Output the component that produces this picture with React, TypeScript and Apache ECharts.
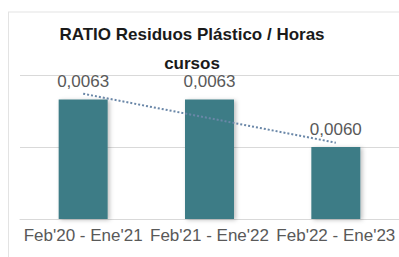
import React, { useEffect, useRef } from "react";
import * as echarts from "echarts";

const categories = ["Feb'20 - Ene'21", "Feb'21 - Ene'22", "Feb'22 - Ene'23"];
const ratioValues = [0.00633, 0.00633, 0.006];
const ratioLabels = ["0,0063", "0,0063", "0,0060"];
const trendValues = [0.00637, 0.0062, 0.00603];
const titleLines = ["RATIO Residuos Plástico / Horas", "cursos"];

export default function App() {
  const ref = useRef<HTMLDivElement>(null);
  useEffect(() => {
    if (!ref.current) return;
    const chart = echarts.init(ref.current, null, { renderer: "svg" });
    chart.setOption({
      animation: false,
      backgroundColor: "#ffffff",
      grid: { left: 20, right: 0, top: 75, bottom: 38 },
      xAxis: {
        type: "category",
        data: categories,
        axisLine: { show: true, lineStyle: { color: "#d9d9d9", width: 1 } },
        axisTick: { show: false },
        axisLabel: {
          color: "#595959",
          fontSize: 17,
          fontFamily: "Liberation Sans, Arial, sans-serif",
          margin: 8,
          interval: 0,
        },
      },
      yAxis: {
        type: "value",
        min: 0.0055,
        max: 0.0065,
        interval: 0.0005,
        axisLabel: { show: false },
        axisLine: { show: false },
        axisTick: { show: false },
        splitLine: { lineStyle: { color: "#d9d9d9", width: 1 } },
      },
      series: [
        {
          type: "bar",
          data: ratioValues,
          barWidth: 49,
          itemStyle: {
            color: "#3d7c86",
            shadowColor: "rgba(0,0,0,0.25)",
            shadowBlur: 4,
            shadowOffsetX: 2,
            shadowOffsetY: 1,
          },
          label: {
            show: true,
            position: "top",
            distance: 9,
            color: "#595959",
            fontSize: 17,
            fontFamily: "Liberation Sans, Arial, sans-serif",
            formatter: (p: any) => ratioLabels[p.dataIndex],
          },
        },
        {
          type: "line",
          data: trendValues,
          symbol: "none",
          lineStyle: { type: "dotted", color: "#6a87a8", width: 2 },
          z: 3,
        },
      ],
      graphic: [
        {
          type: "line",
          shape: { x1: 8, y1: 12, x2: 399, y2: 12 },
          style: { stroke: "#e3e3e3", lineWidth: 1 },
        },
        {
          type: "line",
          shape: { x1: 8.5, y1: 12, x2: 8.5, y2: 257 },
          style: { stroke: "#e3e3e3", lineWidth: 1 },
        },
        {
          type: "text",
          x: 192,
          y: 43,
          style: {
            text: titleLines[0],
            textAlign: "center",
            textVerticalAlign: "bottom",
            fontSize: 17,
            fontWeight: "bold",
            fill: "#1a1a1a",
            fontFamily: "Liberation Sans, Arial, sans-serif",
          },
        },
        {
          type: "text",
          x: 192,
          y: 72,
          style: {
            text: titleLines[1],
            textAlign: "center",
            textVerticalAlign: "bottom",
            fontSize: 17,
            fontWeight: "bold",
            fill: "#1a1a1a",
            fontFamily: "Liberation Sans, Arial, sans-serif",
          },
        },
      ],
    });
    return () => chart.dispose();
  }, []);
  return (
    <div
      ref={ref}
      style={{ position: "fixed", left: 0, top: 0, width: 399, height: 257 }}
    />
  );
}
